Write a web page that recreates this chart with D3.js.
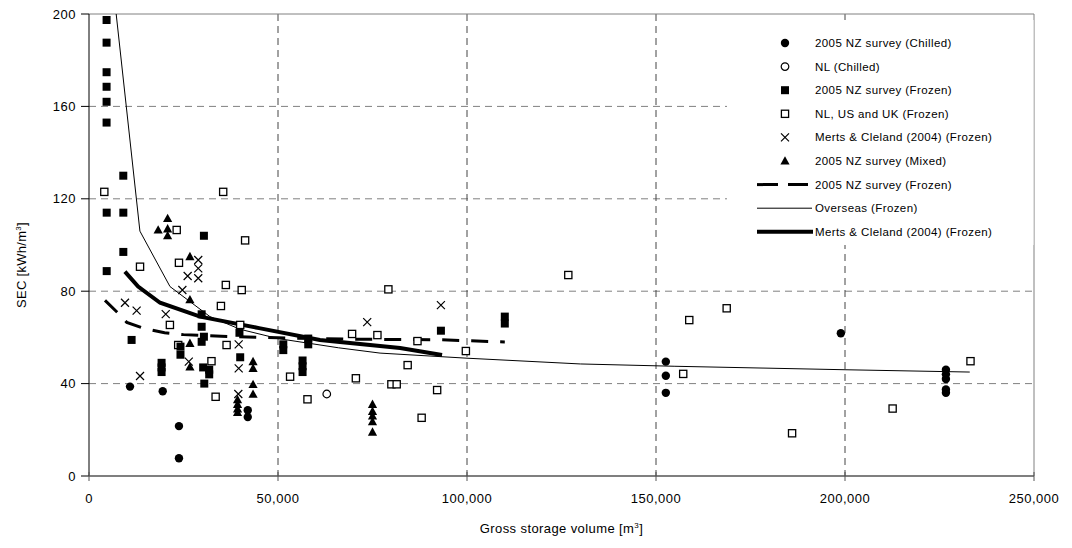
<!DOCTYPE html>
<html>
<head>
<meta charset="utf-8">
<script src="https://cdn.jsdelivr.net/npm/d3@7"></script>
<style>
  body { margin: 0; background: #fff; }
  text { font-family: "Liberation Sans", Arial, sans-serif; fill: #000; }
</style>
</head>
<body>
<div id="chart"></div>
<script>
// --- data: [volume m3, SEC kWh/m3] ---
const nzChilled = [[10850,38.7],[19500,36.7],[23800,21.6],[23800,7.7],[42000,28.5],[42000,25.5],
  [152600,49.5],[152600,43.4],[152600,36],[198900,61.8],[226700,46],[226700,44],[226700,42],[226700,37.5],[226700,36]];
const nlChilled = [[62900,35.5]];
const nzFrozen = [[4650,197.4],[4650,187.6],[4650,174.8],[4650,168.5],[4650,162],[4650,153],
  [9070,130],[4680,114],[9080,114],[9080,97],[4680,88.7],[11270,58.9],
  [30400,104],[29800,70],[29800,64.6],[30400,60.3],[29800,58.1],
  [24200,56],[24200,52.5],[19200,49],[19200,47],[19200,45],
  [30200,47],[31800,46],[31800,44],[30500,40],[39800,62],[40000,51.4],
  [51400,57],[51400,54.5],[58000,59.5],[58000,57],[56500,50],[56500,47.5],[56500,45],
  [93100,62.9],[110000,69],[110000,66]];
const overseasFrozen = [[4050,123],[35500,123],[23200,106.5],[41300,102],[13500,90.6],[23800,92.3],
  [36200,82.7],[40400,80.5],[34900,73.6],[21400,65.4],[40000,65.4],[23600,56.7],[36400,56.7],
  [32400,49.7],[33500,34.3],[53200,43],[57800,33.2],[70600,42.3],[69600,61.5],[76300,61],
  [79200,80.8],[80000,39.7],[81400,39.7],[84300,48],[86900,58.4],[88000,25.2],[92100,37.2],
  [99700,54.1],[126800,87],[157200,44.2],[158800,67.5],[168700,72.6],[186000,18.5],[212600,29.2],[233200,49.7]];
const mertsFrozen = [[9520,75],[12600,71.6],[20300,70.1],[28900,93.5],[28900,89.9],[26100,86.6],
  [28900,85.6],[24700,80.5],[13500,43.3],[26400,49.5],[39600,57],[39600,46.6],[39500,35.5],
  [73600,66.6],[93100,74]];
const nzMixed = [[20800,111.5],[18300,106.5],[20800,107],[20800,104],[26700,95],[26700,76.3],
  [26700,57.4],[26700,47.2],[43400,49.5],[43400,46.6],[43400,39.6],[43400,35.4],
  [39300,33],[39300,31],[39300,29],[39300,27.5],[75000,31],[75000,28],[75000,26],[75000,23.5],[75000,19]];

// trend lines
const nzFrozenFit = [[4230,76],[7700,70.5],[10000,66.5],[14300,64],[20000,62],[25000,61.2],
  [35000,60.5],[50000,59.8],[70000,59.2],[93000,59],[110000,58]];
const overseasFit = [[4650,238],[13470,106],[21430,82],[32000,69],[40000,63.5],[50000,59.5],
  [66000,55.5],[77000,53.2],[100000,51],[130000,48.5],[155000,47.5],[200000,46],[233000,45]];
const mertsFit = [[9500,88.5],[13000,82],[18800,75],[29400,69],[45000,64],[61100,58.9],[82300,55.4],[93400,52.4]];

const xTicks = [0, 50000, 100000, 150000, 200000, 250000];
const yTicks = [0, 40, 80, 120, 160, 200];
const legendLabels = ["2005 NZ survey (Chilled)", "NL (Chilled)", "2005 NZ survey (Frozen)",
  "NL, US and UK (Frozen)", "Merts & Cleland (2004) (Frozen)", "2005 NZ survey (Mixed)",
  "2005 NZ survey (Frozen)", "Overseas (Frozen)", "Merts & Cleland (2004) (Frozen)"];

const W = 1072, H = 548;
const x = d3.scaleLinear().domain([0, 250000]).range([89, 1034]);
const y = d3.scaleLinear().domain([0, 200]).range([476, 14]);

const svg = d3.select("#chart").append("svg").attr("width", W).attr("height", H);

svg.append("defs").append("clipPath").attr("id", "plot")
  .append("rect").attr("x", x(0)).attr("y", y(200)).attr("width", x(250000) - x(0)).attr("height", y(0) - y(200));

// gridlines
const grid = svg.append("g");
grid.selectAll(".hg").data(yTicks.filter(d => d > 0 && d < 200)).enter().append("line")
  .attr("x1", x(0)).attr("x2", x(250000)).attr("y1", d => y(d)).attr("y2", d => y(d))
  .attr("stroke", "#808080").attr("stroke-dasharray", "7,5");
grid.selectAll(".vg").data(xTicks.filter(d => d > 0 && d < 250000)).enter().append("line")
  .attr("y1", y(200)).attr("y2", y(0)).attr("x1", d => x(d)).attr("x2", d => x(d))
  .attr("stroke", "#444").attr("stroke-dasharray", "7,5");
// plot frame (top/right)
grid.append("path").attr("d", `M${x(0)},${y(200)}H${x(250000)}V${y(0)}`)
  .attr("fill", "none").attr("stroke", "#808080");

// lines
const line = d3.line().x(d => x(d[0])).y(d => y(d[1]));
const lines = svg.append("g").attr("clip-path", "url(#plot)");
lines.append("path").datum(overseasFit).attr("d", line).attr("fill", "none").attr("stroke", "#000").attr("stroke-width", 1);
lines.append("path").datum(mertsFit).attr("d", line).attr("fill", "none").attr("stroke", "#000").attr("stroke-width", 4);
lines.append("path").datum(nzFrozenFit).attr("d", line).attr("fill", "none").attr("stroke", "#000")
  .attr("stroke-width", 3).attr("stroke-dasharray", "17,12");

// marker drawing
function marker(g, kind) {
  if (kind === "circle") g.append("circle").attr("r", 4.2).attr("fill", "#000");
  else if (kind === "ocircle") g.append("circle").attr("r", 3.8).attr("fill", "#fff").attr("stroke", "#000").attr("stroke-width", 1.2);
  else if (kind === "square") g.append("rect").attr("x", -4).attr("y", -4).attr("width", 8).attr("height", 8).attr("fill", "#000");
  else if (kind === "osquare") g.append("rect").attr("x", -3.6).attr("y", -3.6).attr("width", 7.2).attr("height", 7.2)
    .attr("fill", "#fff").attr("stroke", "#000").attr("stroke-width", 1.3);
  else if (kind === "cross") g.append("path").attr("d", "M-4,-4L4,4M-4,4L4,-4").attr("stroke", "#000").attr("stroke-width", 1.2);
  else if (kind === "tri") g.append("path").attr("d", "M0,-4.8L4.6,3.6L-4.6,3.6Z").attr("fill", "#000");
}
const series = [
  { data: overseasFrozen, kind: "osquare" },
  { data: nlChilled, kind: "ocircle" },
  { data: mertsFrozen, kind: "cross" },
  { data: nzFrozen, kind: "square" },
  { data: nzMixed, kind: "tri" },
  { data: nzChilled, kind: "circle" }
];
const pts = svg.append("g").attr("clip-path", "url(#plot)");
series.forEach(s => {
  pts.selectAll(null).data(s.data).enter().append("g")
    .attr("transform", d => `translate(${x(d[0])},${y(d[1])})`)
    .each(function () { marker(d3.select(this), s.kind); });
});

// legend
const lg = svg.append("g");
lg.append("rect").attr("x", 727).attr("y", 20).attr("width", 1033.5 - 727).attr("height", 225).attr("fill", "#fff");
const kinds = ["circle", "ocircle", "square", "osquare", "cross", "tri", "dash", "thin", "thick"];
legendLabels.forEach((lab, i) => {
  const ly = 43 + i * 23.6;
  const g = lg.append("g").attr("transform", `translate(0,${ly})`);
  const k = kinds[i];
  if (k === "dash") g.append("line").attr("x1", 757).attr("x2", 808).attr("stroke", "#000").attr("stroke-width", 3).attr("stroke-dasharray", "21,10");
  else if (k === "thin") g.append("line").attr("x1", 757).attr("x2", 812).attr("stroke", "#000").attr("stroke-width", 1);
  else if (k === "thick") g.append("line").attr("x1", 757).attr("x2", 813).attr("stroke", "#000").attr("stroke-width", 4);
  else marker(g.append("g").attr("transform", "translate(785,0)"), k);
  g.append("text").attr("x", 815).attr("dy", "0.35em").attr("font-size", 11.5)
    .attr("letter-spacing", 0.4).text(lab);
});

// axes
const axes = svg.append("g");
axes.append("line").attr("x1", x(0)).attr("x2", x(0)).attr("y1", y(200)).attr("y2", y(0)).attr("stroke", "#000");
axes.append("line").attr("x1", x(0)).attr("x2", x(250000)).attr("y1", y(0)).attr("y2", y(0)).attr("stroke", "#555").attr("stroke-width", 1.5);
axes.selectAll(".yt").data(yTicks).enter().append("line")
  .attr("x1", x(0) - 8).attr("x2", x(0)).attr("y1", d => y(d)).attr("y2", d => y(d)).attr("stroke", "#000");
axes.selectAll(".ytl").data(yTicks).enter().append("text")
  .attr("x", x(0) - 13).attr("y", d => y(d)).attr("dy", "0.35em").attr("text-anchor", "end")
  .attr("font-size", 13).attr("letter-spacing", 0.5).text(d => d);
axes.selectAll(".xt").data(xTicks).enter().append("line")
  .attr("x1", d => x(d)).attr("x2", d => x(d)).attr("y1", y(0) - 4).attr("y2", y(0) + 5).attr("stroke", "#555");
const fmt = d3.format(",");
axes.selectAll(".xtl").data(xTicks).enter().append("text")
  .attr("x", d => x(d)).attr("y", 503).attr("text-anchor", "middle")
  .attr("font-size", 13).attr("letter-spacing", 0.5).text(d => fmt(d));

const xt = axes.append("text").attr("x", (x(0) + x(250000)) / 2).attr("y", 533).attr("text-anchor", "middle")
  .attr("font-size", 13).attr("letter-spacing", 0.4);
xt.append("tspan").text("Gross storage volume [m");
xt.append("tspan").attr("font-size", 8).attr("dy", -5).text("3");
xt.append("tspan").attr("dy", 5).text("]");

const yt = axes.append("text").attr("transform", `translate(26,${(y(0) + y(200)) / 2 + 20}) rotate(-90)`)
  .attr("text-anchor", "middle").attr("font-size", 13).attr("letter-spacing", 0.3);
yt.append("tspan").text("SEC [kWh/m");
yt.append("tspan").attr("font-size", 8).attr("dy", -5).text("3");
yt.append("tspan").attr("dy", 5).text("]");
</script>
</body>
</html>
